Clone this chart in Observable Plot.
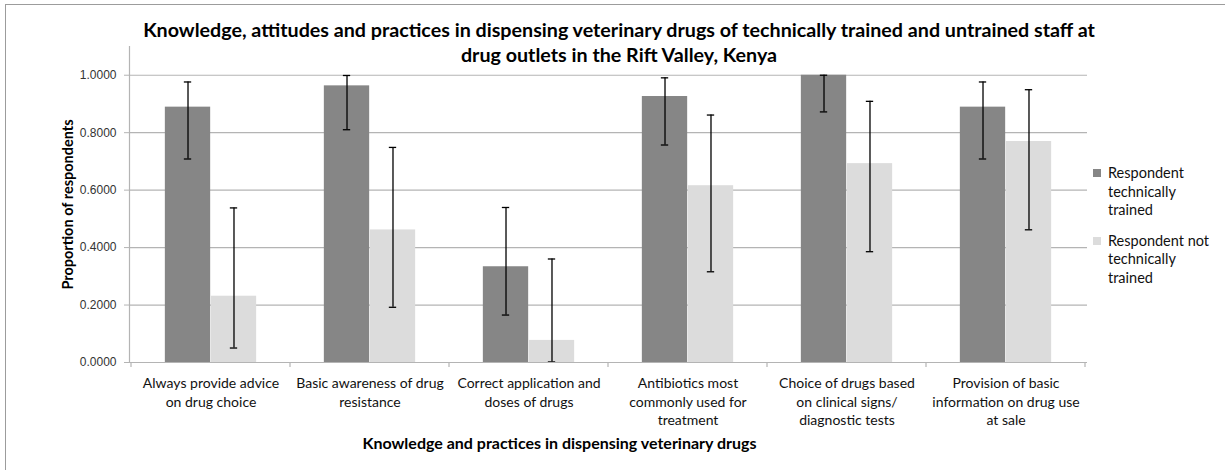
<!DOCTYPE html>
<html>
<head>
<meta charset="utf-8">
<script src="https://cdn.jsdelivr.net/npm/d3@7"></script>
<script src="https://cdn.jsdelivr.net/npm/@observablehq/plot@0.6"></script>
<style>
  body { margin: 0; background: #fff; }
  #chart { position: relative; width: 1225px; height: 470px; overflow: hidden; font-family: Lato, "Open Sans", sans-serif; }
  #border { position: absolute; left: 5px; top: 4px; width: 1260px; height: 500px; border: 1px solid #9c9c9c; box-sizing: border-box; }
  #title { position: absolute; left: 0; width: 1238px; top: 17px; text-align: center; font-weight: bold; font-size: 19.7px; line-height: 25px; color: #000; }
  #plot { position: absolute; left: 0; top: 0; }
  #legend { position: absolute; left: 1093px; top: 164px; font-size: 14.5px; line-height: 18.5px; color: #111; }
  .item { position: relative; padding-left: 15px; margin-bottom: 12px; }
  .sw { position: absolute; left: 0; top: 5px; width: 8px; height: 8px; }
</style>
</head>
<body>
<div id="chart">
  <div id="border"></div>
  <div id="title">Knowledge, attitudes and practices in dispensing veterinary drugs of technically trained and untrained staff at<br>drug outlets in the Rift Valley, Kenya</div>
  <div id="plot"></div>
  <div id="legend"></div>
</div>
<script>
// Practices (x categories) and their two-line / three-line tick labels
const categories = [
  "Always provide advice on drug choice",
  "Basic awareness of drug resistance",
  "Correct application and doses of drugs",
  "Antibiotics most commonly used for treatment",
  "Choice of drugs based on clinical signs/ diagnostic tests",
  "Provision of basic information on drug use at sale"
];
const tickLabels = [
  "Always provide advice\non drug choice",
  "Basic awareness of drug\nresistance",
  "Correct application and\ndoses of drugs",
  "Antibiotics most\ncommonly used for\ntreatment",
  "Choice of drugs based\non clinical signs/\ndiagnostic tests",
  "Provision of basic\ninformation on drug use\nat sale"
];
const seriesNames = ["Respondent technically trained", "Respondent not technically trained"];
const seriesColors = ["#868686", "#dcdcdc"];

// Proportions with 95% confidence limits
const trained      = [0.8889, 0.9630, 0.3333, 0.9259, 1.0000, 0.8889];
const trainedLow   = [0.7084, 0.8103, 0.1652, 0.7571, 0.8723, 0.7084];
const trainedHigh  = [0.9765, 0.9991, 0.5396, 0.9909, 1.0000, 0.9765];
const untrained     = [0.2308, 0.4615, 0.0769, 0.6154, 0.6923, 0.7692];
const untrainedLow  = [0.0504, 0.1922, 0.0019, 0.3158, 0.3857, 0.4619];
const untrainedHigh = [0.5381, 0.7487, 0.3603, 0.8614, 0.9091, 0.9496];

const yTicks = [0, 0.2, 0.4, 0.6, 0.8, 1.0];

const rowsTrained = categories.map((c, i) => ({category: c, value: trained[i], lo: trainedLow[i], hi: trainedHigh[i]}));
const rowsUntrained = categories.map((c, i) => ({category: c, value: untrained[i], lo: untrainedLow[i], hi: untrainedHigh[i]}));

const W = 1225, H = 470, ML = 129, MR = 138, MT = 46, MB = 108;
const band = (W - ML - MR) / categories.length;
const barW = band * 0.288;
const half = band / 2;
const capHalf = 4;
const gridColor = "#b4b4b4";

// Small outward ticks at the boundaries between categories
function boundaryTicks(index, scales, values, dims) {
  const g = d3.create("svg:g").attr("stroke", gridColor).attr("stroke-width", 1.2);
  const y0 = dims.height - dims.marginBottom;
  const bw = scales.x.bandwidth ? scales.x.bandwidth() : band;
  const xs = categories.map(c => scales.x(c));
  xs.push(xs[xs.length - 1] + bw);
  for (const x of xs) g.append("line").attr("x1", x).attr("x2", x).attr("y1", y0).attr("y2", y0 + 5);
  return g.node();
}

const errorMarks = (rows, dx) => [
  Plot.ruleX(rows, {x: "category", y1: "lo", y2: "hi", dx, stroke: "#000", strokeWidth: 1.3}),
  Plot.tickY(rows, {x: "category", y: "hi", dx, insetLeft: half - capHalf, insetRight: half - capHalf, stroke: "#000", strokeWidth: 1.3}),
  Plot.tickY(rows, {x: "category", y: "lo", dx, insetLeft: half - capHalf, insetRight: half - capHalf, stroke: "#000", strokeWidth: 1.3})
];

const chart = Plot.plot({
  width: W, height: H,
  marginLeft: ML, marginRight: MR, marginTop: MT, marginBottom: MB,
  style: {background: "transparent", fontFamily: "Lato, 'Open Sans', sans-serif", overflow: "visible"},
  x: {domain: categories, padding: 0, axis: null},
  y: {domain: [0, 1.1], axis: null},
  marks: [
    Plot.gridY(yTicks.slice(1), {stroke: gridColor, strokeOpacity: 1, strokeWidth: 1.2}),
    Plot.barY(rowsTrained, {x: "category", y: "value", fill: seriesColors[0], insetLeft: half - barW, insetRight: half}),
    Plot.barY(rowsUntrained, {x: "category", y: "value", fill: seriesColors[1], insetLeft: half, insetRight: half - barW}),
    ...errorMarks(rowsTrained, -barW / 2),
    ...errorMarks(rowsUntrained, barW / 2),
    Plot.ruleY([0], {stroke: gridColor, strokeWidth: 1.2}),
    Plot.frame({anchor: "left", stroke: gridColor, strokeWidth: 1.2}),
    Plot.axisY({ticks: yTicks, tickFormat: d3.format(".4f"), tickSize: 5, tickPadding: 8, stroke: gridColor,
      fontSize: 12, fontFamily: "'Liberation Sans', Arial, sans-serif", fill: "#333"}),
    Plot.axisX({tickSize: 0, tickPadding: 13, tickFormat: d => tickLabels[categories.indexOf(d)],
      fontSize: 14, lineHeight: 1.3, fill: "#111", label: null}),
    boundaryTicks,
    Plot.text(["Knowledge and practices in dispensing veterinary drugs"], {
      frameAnchor: "bottom-left", textAnchor: "middle", dx: 430, dy: 86, fontWeight: "bold", fontSize: 16, fill: "#000"}),
    Plot.text(["Proportion of respondents"], {
      frameAnchor: "left", textAnchor: "middle", dx: -61, rotate: -90, fontWeight: "bold", fontSize: 14.5, fill: "#000"})
  ]
});
document.getElementById("plot").appendChild(chart);

// Legend entries, one per series
const legend = d3.select("#legend");
const legendLines = [["Respondent", "technically", "trained"], ["Respondent not", "technically", "trained"]];
seriesNames.forEach((name, i) => {
  const item = legend.append("div").attr("class", "item").attr("title", name);
  item.append("span").attr("class", "sw").style("background", seriesColors[i]);
  item.append("div").html(legendLines[i].join("<br>"));
});
</script>
</body>
</html>
